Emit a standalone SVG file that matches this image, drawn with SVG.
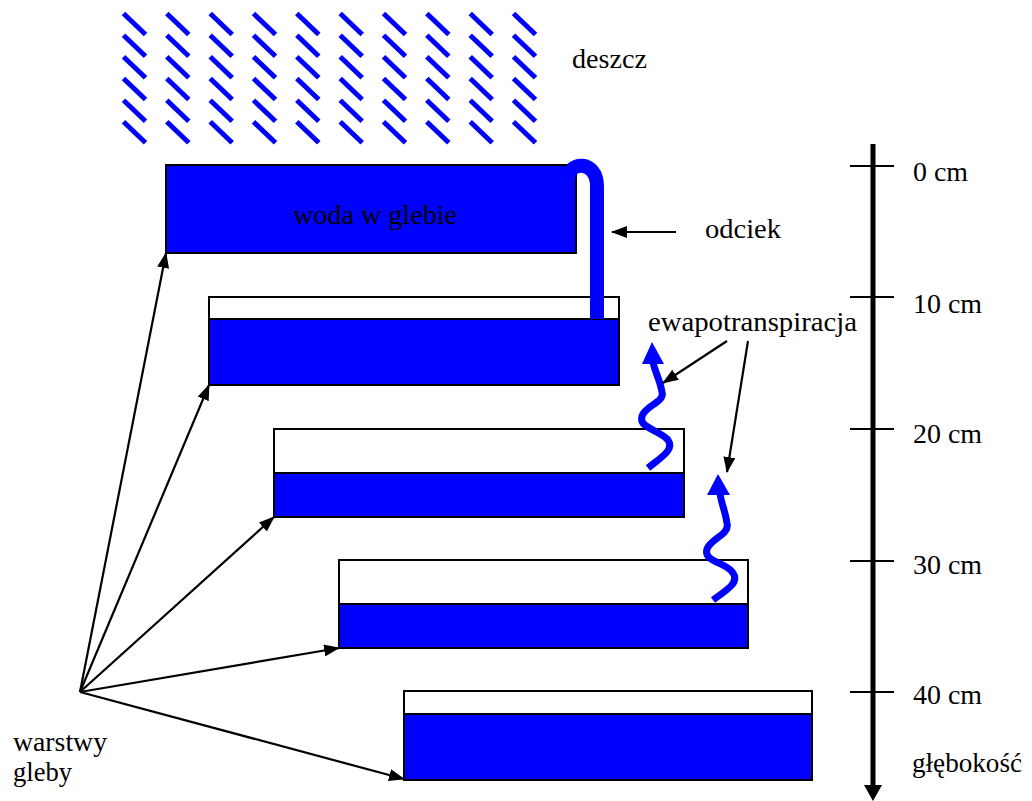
<svg xmlns="http://www.w3.org/2000/svg" xmlns:xlink="http://www.w3.org/1999/xlink" width="1032" height="801" viewBox="0 0 1032 801">
  <style>
    .lbl { font-family: "Liberation Serif", "Times New Roman", serif; font-size: 27px; fill: #000; }
    .water { fill: #0000ff; stroke: #000; stroke-width: 2; }
    .air { fill: #fff; stroke: #000; stroke-width: 2; }
    .drop { stroke: #0000ff; stroke-width: 5; fill: none; }
    .ptr { stroke: #000; stroke-width: 2.2; fill: none; marker-end: url(#head); }
    .wave { stroke: #0000ff; stroke-width: 7; fill: none; }
    .tick { stroke: #000; stroke-width: 2; }
  </style>
  <defs>
    <marker id="head" viewBox="0 0 16 12" refX="15" refY="6" markerWidth="16" markerHeight="12" markerUnits="userSpaceOnUse" orient="auto">
      <path d="M0,0 L16,6 L0,12 Z" fill="#000"/>
    </marker>
    <!-- one column of rain streaks -->
    <g id="rain-col">
      <line class="drop" x1="0" y1="0" x2="22" y2="21"/>
      <line class="drop" x1="0" y1="21.7" x2="22" y2="42.7"/>
      <line class="drop" x1="0" y1="43.3" x2="22" y2="64.3"/>
      <line class="drop" x1="0" y1="65" x2="22" y2="86"/>
      <line class="drop" x1="0" y1="86.7" x2="22" y2="107.7"/>
      <line class="drop" x1="0" y1="108.3" x2="22" y2="129.3"/>
    </g>
  </defs>

  <rect width="1032" height="801" fill="#fff"/>

  <!-- rain -->
  <g id="rain" transform="translate(123.5,13.5)">
    <use xlink:href="#rain-col" x="0"/>
    <use xlink:href="#rain-col" x="43.3"/>
    <use xlink:href="#rain-col" x="86.7"/>
    <use xlink:href="#rain-col" x="130"/>
    <use xlink:href="#rain-col" x="173.3"/>
    <use xlink:href="#rain-col" x="216.7"/>
    <use xlink:href="#rain-col" x="260"/>
    <use xlink:href="#rain-col" x="303.3"/>
    <use xlink:href="#rain-col" x="346.7"/>
    <use xlink:href="#rain-col" x="390"/>
  </g>
  <text id="deszcz" class="lbl" x="572" y="68" textLength="75" lengthAdjust="spacingAndGlyphs">deszcz</text>

  <!-- soil layers -->
  <g id="layer0">
    <rect class="water" x="166" y="165" width="410" height="88"/>
    <text class="lbl" x="293" y="224" textLength="164" lengthAdjust="spacingAndGlyphs">woda w glebie</text>
  </g>
  <g id="layer1">
    <rect class="air" x="209" y="297" width="410" height="22"/>
    <rect class="water" x="209" y="319" width="410" height="66"/>
  </g>
  <g id="layer2">
    <rect class="air" x="274" y="429" width="410" height="44"/>
    <rect class="water" x="274" y="473" width="410" height="44"/>
  </g>
  <g id="layer3">
    <rect class="air" x="339" y="560" width="409" height="44"/>
    <rect class="water" x="339" y="604" width="409" height="44"/>
  </g>
  <g id="layer4">
    <rect class="air" x="404" y="691" width="408" height="23"/>
    <rect class="water" x="404" y="714" width="408" height="66"/>
  </g>

  <!-- overflow pipe -->
  <g id="runoff">
    <path d="M568,180 C568,160 597,160 597,186 L597,319" stroke="#0000ff" stroke-width="14" fill="none"/>
    <text class="lbl" x="705" y="238" textLength="76" lengthAdjust="spacingAndGlyphs">odciek</text>
  </g>

  <!-- evapotranspiration waves -->
  <g id="evap1">
    <path class="wave" d="M648,468 C660,458 675,450 668,440 C660,430 638,428 642,416 C646,405 665,402 662,392 C660,380 655,372 653,362"/>
    <path d="M652,342 L642,364 L664,364 Z" fill="#0000ff"/>
  </g>
  <g id="evap2">
    <path class="wave" d="M713,600 C725,591 740,583 733,573 C726,562 703,562 707,549 C711,538 730,535 727,523 C725,510 721,503 720,493"/>
    <path d="M718,474 L707,495 L730,495 Z" fill="#0000ff"/>
  </g>
  <text id="ewapotranspiracja" class="lbl" x="648" y="331" textLength="209" lengthAdjust="spacingAndGlyphs">ewapotranspiracja</text>

  <!-- depth axis -->
  <g id="depth-axis">
    <line x1="873" y1="144" x2="873" y2="787" stroke="#000" stroke-width="5"/>
    <path d="M864,785 L882,785 L873,801 Z" fill="#000"/>
    <line class="tick" x1="850" y1="166" x2="894" y2="166"/>
    <line class="tick" x1="850" y1="297" x2="894" y2="297"/>
    <line class="tick" x1="850" y1="429" x2="894" y2="429"/>
    <line class="tick" x1="850" y1="561" x2="894" y2="561"/>
    <line class="tick" x1="850" y1="692" x2="894" y2="692"/>
    <text class="lbl" x="913" y="181" textLength="55" lengthAdjust="spacingAndGlyphs">0 cm</text>
    <text class="lbl" x="913" y="313" textLength="69" lengthAdjust="spacingAndGlyphs">10 cm</text>
    <text class="lbl" x="913" y="443" textLength="69" lengthAdjust="spacingAndGlyphs">20 cm</text>
    <text class="lbl" x="913" y="574" textLength="69" lengthAdjust="spacingAndGlyphs">30 cm</text>
    <text class="lbl" x="913" y="704" textLength="69" lengthAdjust="spacingAndGlyphs">40 cm</text>
    <text class="lbl" x="912" y="772" textLength="110" lengthAdjust="spacingAndGlyphs">głębokość</text>
  </g>

  <g id="warstwy-gleby">
    <text class="lbl" x="13" y="751" textLength="94" lengthAdjust="spacingAndGlyphs">warstwy</text>
    <text class="lbl" x="13" y="781" textLength="59" lengthAdjust="spacingAndGlyphs">gleby</text>
  </g>

  <!-- connectors -->
  <g id="connectors">
    <line class="ptr" x1="676" y1="232" x2="612" y2="232"/>
    <line class="ptr" x1="727" y1="341" x2="663" y2="383"/>
    <line class="ptr" x1="748" y1="341" x2="727" y2="472"/>
    <line class="ptr" x1="80" y1="692" x2="166" y2="253"/>
    <line class="ptr" x1="80" y1="692" x2="209" y2="385"/>
    <line class="ptr" x1="80" y1="692" x2="274" y2="517"/>
    <line class="ptr" x1="80" y1="692" x2="339" y2="648"/>
    <line class="ptr" x1="80" y1="692" x2="404" y2="779"/>
  </g>
</svg>
